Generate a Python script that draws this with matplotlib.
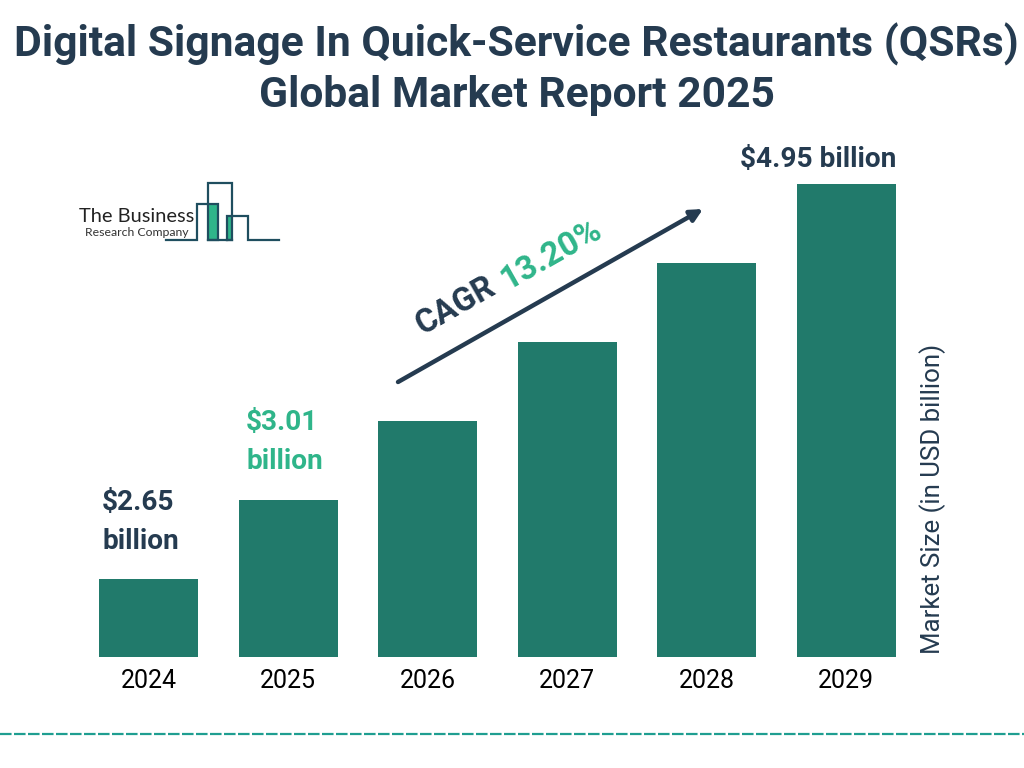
import matplotlib
matplotlib.use('Agg')
import matplotlib.pyplot as plt
from matplotlib.patches import Rectangle

plt.rcParams['font.family'] = ['Roboto', 'DejaVu Sans']

years = ['2024', '2025', '2026', '2027', '2028', '2029']
# bars in the picture are evenly stepped, not proportional to the labels
bar_heights = [0.78, 1.57, 2.36, 3.15, 3.94, 4.73]
title_lines = ['Digital Signage In Quick-Service Restaurants (QSRs)', 'Global Market Report 2025']
value_2024 = '$2.65\nbillion'
value_2025 = '$3.01\nbillion'
value_2029 = '$4.95 billion'
cagr = '13.20%'

DARK = '#253b50'
BAR = '#217a6b'
GREEN = '#2fb58a'
TEAL = '#1f9e91'
LOGO = '#1f4e5f'

fig = plt.figure(figsize=(10.24, 7.68), dpi=100)

# bars, slot spacing 139.5px
ax = fig.add_axes([79 / 1024, (768 - 657) / 768, 837 / 1024, 500 / 768])
ax.bar(range(len(years)), bar_heights, width=0.71, color=BAR)
ax.set_xlim(-0.5, 5.5)
ax.set_ylim(0, 5)
ax.set_xticks(range(len(years)))
ax.set_xticklabels(years, fontsize=18, color='black')
ax.tick_params(axis='x', length=0, pad=9)
ax.set_yticks([])
for s in ax.spines.values():
    s.set_visible(False)
ax.patch.set_alpha(0)

# overlay in pixel coordinates for the annotations
ov = fig.add_axes([0, 0, 1, 1])
ov.set_xlim(0, 1024)
ov.set_ylim(768, 0)
ov.axis('off')

ov.text(516.5, 44, title_lines[0], ha='center', va='center', fontsize=30.7, fontweight='bold', color=DARK)
ov.text(516.5, 96, title_lines[1], ha='center', va='center', fontsize=30.7, fontweight='bold', color=DARK)

ov.text(102, 522, value_2024, ha='left', va='center', fontsize=20.2, fontweight='bold', color=DARK, linespacing=1.56)
ov.text(246, 442, value_2025, ha='left', va='center', fontsize=20.2, fontweight='bold', color=GREEN, linespacing=1.56)
ov.text(818, 160, value_2029, ha='center', va='center', fontsize=20.2, fontweight='bold', color=DARK)

ov.annotate('', xy=(703, 209), xytext=(398, 382),
            arrowprops=dict(arrowstyle='-|>', color=DARK, lw=3.2, mutation_scale=18, shrinkA=0, shrinkB=0))
ov.text(456, 306, 'CAGR', rotation=29.5, ha='center', va='center', rotation_mode='anchor',
        fontsize=23.5, fontweight='bold', color=DARK)
ov.text(551, 255, cagr, rotation=29.5, ha='center', va='center', rotation_mode='anchor',
        fontsize=24, fontweight='bold', color=GREEN)

ov.text(933, 499, 'Market Size (in USD billion)', rotation=90, ha='center', va='center', fontsize=18.6, color=DARK)

ov.plot([0, 1024], [734, 734], color=TEAL, lw=1.6, dashes=(5.2, 1.1))

# logo
ov.add_patch(Rectangle((208, 204), 10, 36, color=GREEN, lw=0))
ov.add_patch(Rectangle((227, 216), 5, 24, color=GREEN, lw=0))
ov.plot([166, 197, 197, 218, 218, 208, 208, 232, 232, 208], [240, 240, 204, 204, 240, 240, 183, 183, 240, 240],
        color=LOGO, lw=1.6, solid_joinstyle='miter')
ov.plot([227, 227, 248, 248, 279], [240, 216, 216, 240, 240], color=LOGO, lw=1.6, solid_joinstyle='miter')
ov.plot([227, 232], [240, 240], color=LOGO, lw=1.6)
ov.text(79, 216, 'The Business', ha='left', va='center', fontsize=14.4, color='#222222', family='Lato')
ov.text(85, 233, 'Research Company', ha='left', va='center', fontsize=8.8, color='#333333', family='Lato')

fig.savefig('out.png', dpi=100)
